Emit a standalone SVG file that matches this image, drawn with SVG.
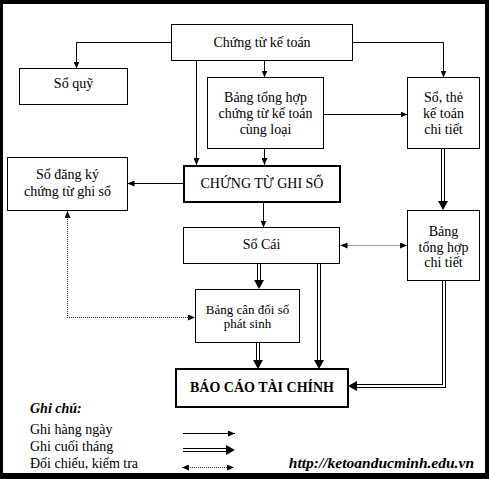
<svg xmlns="http://www.w3.org/2000/svg" width="489" height="479" viewBox="0 0 489 479">
<style>
.box{fill:#fff;stroke:#000;stroke-width:1}
.tbox{fill:#fff;stroke:#000;stroke-width:2}
.t{font-family:"Liberation Serif","Times New Roman",serif;font-size:14px;fill:#000;text-anchor:middle}
.sm{font-size:13px}
.b{font-weight:bold}
.lg{font-family:"Liberation Serif","Times New Roman",serif;font-size:14px;fill:#000}
.one{fill:none;stroke:#000;stroke-width:1;marker-end:url(#a1)}
.dblO{fill:none;stroke:#000;stroke-width:4;stroke-linejoin:miter;marker-end:url(#a2)}
.dblI{fill:none;stroke:#fff;stroke-width:2;stroke-linejoin:miter}
.dot{fill:none;stroke:#333;stroke-width:1;stroke-dasharray:1 1;marker-start:url(#a3s);marker-end:url(#a3)}
</style>
<defs>
<marker id="a1" markerUnits="userSpaceOnUse" markerWidth="7" markerHeight="6" viewBox="0 0 7 6" refX="7" refY="3" orient="auto"><path d="M0,0 L7,3 L0,6 z" fill="#000"/></marker>
<marker id="a2" markerUnits="userSpaceOnUse" markerWidth="9" markerHeight="10" viewBox="0 0 9 10" refX="0" refY="5" orient="auto"><path d="M0,0 L9,5 L0,10 z" fill="#000"/></marker>
<marker id="a3" markerUnits="userSpaceOnUse" markerWidth="7" markerHeight="6" viewBox="0 0 7 6" refX="7" refY="3" orient="auto"><path d="M0,0 L7,3 L0,6 z" fill="#000"/></marker>
<marker id="a3s" markerUnits="userSpaceOnUse" markerWidth="7" markerHeight="6" viewBox="0 0 7 6" refX="7" refY="3" orient="auto-start-reverse"><path d="M0,0 L7,3 L0,6 z" fill="#000"/></marker>
</defs>
<rect x="0" y="0" width="489" height="479" fill="#000"/>
<rect x="3" y="4" width="482" height="469" fill="#fff"/>

<g id="connectors">
<path class="one" d="M171.5,42.5 H76.5 V68.5"/>
<path class="one" d="M196.5,60.5 V165"/>
<path class="one" d="M264.5,60.5 V77.5"/>
<path class="one" d="M352.5,42.5 H443.5 V77.5"/>
<path class="one" d="M323.5,114.5 H407.5"/>
<path class="one" d="M264.5,148.5 V165"/>
<path class="one" d="M183,183.5 H127.5"/>
<path class="one" d="M263.5,203 V227.5"/>
<path class="dblO" d="M443,148.5 V201"/><path class="dblI" d="M443,148.5 V201"/>
<path class="dblO" d="M259,263.5 V280"/><path class="dblI" d="M259,263.5 V280"/>
<path class="dblO" d="M319,263.5 V360"/><path class="dblI" d="M319,263.5 V360"/>
<path class="dblO" d="M258,342.5 V360"/><path class="dblI" d="M258,342.5 V360"/>
<path class="dblO" d="M444,280.5 V386 H357"/><path class="dblI" d="M444,280.5 V386 H357"/>
<path class="dot" d="M340.5,245.5 H407"/>
<path class="dot" d="M67.5,211 V317.5 H195"/>
</g>

<g id="n-chungtu"><rect class="box" x="171.5" y="24.5" width="181" height="36"/><text class="t" x="262" y="47">Chứng từ kế toán</text></g>
<g id="n-soquy"><rect class="box" x="19.5" y="68.5" width="108" height="36"/><text class="t" x="73.5" y="88">Sổ quỹ</text></g>
<g id="n-bangth"><rect class="box" x="207.5" y="77.5" width="116" height="71"/><text class="t" x="265.5" y="102">Bảng tổng hợp</text><text class="t" x="265.5" y="118">chứng từ kế toán</text><text class="t" x="265.5" y="134">cùng loại</text></g>
<g id="n-sothe"><rect class="box" x="407.5" y="77.5" width="72" height="71"/><text class="t" x="443.5" y="102">Sổ, thẻ</text><text class="t" x="443.5" y="118">kế toán</text><text class="t" x="443.5" y="134">chi tiết</text></g>
<g id="n-sodangky"><rect class="box" x="7.5" y="157.5" width="120" height="53"/><text class="t" x="67.5" y="179">Sổ đăng ký</text><text class="t" x="67.5" y="196">chứng từ ghi sổ</text></g>
<g id="n-ctgs"><rect class="tbox" x="184" y="166" width="156" height="36"/><text class="t" x="262" y="188">CHỨNG TỪ GHI SỔ</text></g>
<g id="n-socai"><rect class="box" x="183.5" y="227.5" width="156" height="36"/><text class="t" x="261.5" y="249">Sổ Cái</text></g>
<g id="n-thct"><rect class="box" x="407.5" y="210.5" width="72" height="70"/><text class="t" x="443.5" y="236">Bảng</text><text class="t" x="443.5" y="252">tổng hợp</text><text class="t" x="443.5" y="267">chi tiết</text></g>
<g id="n-bcd"><rect class="box" x="195.5" y="289.5" width="104" height="53"/><text class="t sm" x="247.5" y="314">Bảng cân đối số</text><text class="t sm" x="247.5" y="328">phát sinh</text></g>
<g id="n-bctc"><rect class="tbox" x="176" y="369" width="172" height="38"/><text class="t b" x="262" y="392">BÁO CÁO TÀI CHÍNH</text></g>

<g id="legend">
<text class="lg" x="30" y="413" font-weight="bold" font-style="italic">Ghi chú:</text>
<text class="lg" x="30" y="434">Ghi hàng ngày</text>
<text class="lg" x="30" y="451">Ghi cuối tháng</text>
<text class="lg" x="30" y="468">Đối chiếu, kiểm tra</text>
<path class="one" d="M183,433.5 H235"/>
<path class="dblO" d="M183,450 H226"/><path class="dblI" d="M183,450 H226"/>
<path class="dot" d="M182,467.5 H234"/>
</g>
<text x="474" y="468" text-anchor="end" font-family="Liberation Serif,'Times New Roman',serif" font-size="15.5" font-weight="bold" font-style="italic" fill="#000">http://ketoanducminh.edu.vn</text>
</svg>
